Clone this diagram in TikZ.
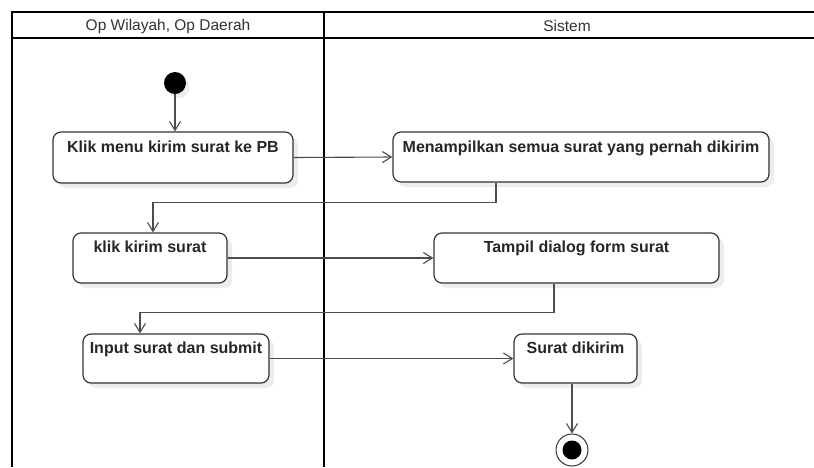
\documentclass[tikz,border=0pt]{standalone}
\usepackage{fontspec}
\setmainfont{Liberation Sans}
\usetikzlibrary{arrows.meta,shadows}

\tikzset{
  lane/.style={line width=2pt, black},
  actbox/.style={draw=black!80, line width=1.2pt, rounded corners=8pt, fill=white,
    drop shadow={shadow xshift=5pt, shadow yshift=-5pt, opacity=0.07, fill=black}},
  acttext/.style={anchor=base, inner sep=0pt, font=\fontsize{16}{19}\bfseries\selectfont, text=black!85},
  lanetext/.style={inner sep=0pt, font=\fontsize{15.5}{18}\selectfont, text=black!80},
  flow/.style={draw=black!70, line width=1.1pt, -{Straight Barb[length=9pt,width=11pt]}}
}

\begin{document}
\begin{tikzpicture}[x=1pt, y=-1pt]
    \useasboundingbox (0,0) rectangle (814,467);

    % 1. Corsie
    \draw[lane] (12,467) -- (12,12) -- (814,12);
    \draw[lane] (12,38) -- (814,38);
    \draw[lane] (324,12) -- (324,467);
    \node[lanetext] (laneop) at (168,26) {Op Wilayah, Op Daerah};
    \node[lanetext] (lanesis) at (567,26) {Sistem};

    % 2. Nodo iniziale e finale
    \node[circle, fill=black, minimum size=22pt, inner sep=0pt,
          drop shadow={shadow xshift=4pt, shadow yshift=-4pt, opacity=0.07, fill=black}] (start) at (175,83) {};
    \node[circle, draw=black!80, line width=1pt, fill=white, minimum size=32pt, inner sep=0pt] (stop) at (572,450) {};
    \node[circle, fill=black, minimum size=19pt, inner sep=0pt] (stopdot) at (stop) {};

    % 3. Attivita
    \node[actbox, minimum width=240pt, minimum height=51pt] (klikmenu) at (173,157.5) {};
    \node[acttext] at ([yshift=-21pt]klikmenu.north) {Klik menu kirim surat ke PB};

    \node[actbox, minimum width=376pt, minimum height=50pt] (tampilsurat) at (581,157) {};
    \node[acttext] at ([yshift=-21pt]tampilsurat.north) {Menampilkan semua surat yang pernah dikirim};

    \node[actbox, minimum width=154pt, minimum height=50pt] (klikkirim) at (150,258) {};
    \node[acttext] at ([yshift=-20pt]klikkirim.north) {klik kirim surat};

    \node[actbox, minimum width=285pt, minimum height=50pt] (dialog) at (576.5,258) {};
    \node[acttext] at ([yshift=-20pt]dialog.north) {Tampil dialog form surat};

    \node[actbox, minimum width=186pt, minimum height=49pt] (input) at (176,358.5) {};
    \node[acttext] at ([yshift=-20pt]input.north) {Input surat dan submit};

    \node[actbox, minimum width=123pt, minimum height=49pt] (dikirim) at (575.5,358.5) {};
    \node[acttext] at ([yshift=-20pt]dikirim.north) {Surat dikirim};

    % 4. Frecce
    \draw[flow] (start) -- (start |- klikmenu.north);
    \draw[flow] (klikmenu.east) -- (tampilsurat.west);
    \draw[flow] ([xshift=-85pt]tampilsurat.south) -- ++(0,20) -| ([xshift=3pt]klikkirim.north);
    \draw[flow] (klikkirim.east |- dialog.west) -- (dialog.west);
    \draw[flow] ([xshift=-22.5pt]dialog.south) -- ++(0,29) -| ([xshift=-36pt]input.north);
    \draw[flow] (input.east) -- (dikirim.west);
    \draw[flow] ([xshift=-3.5pt]dikirim.south) -- ([xshift=-3.5pt]dikirim.south |- stop.north);

\end{tikzpicture}
\end{document}
